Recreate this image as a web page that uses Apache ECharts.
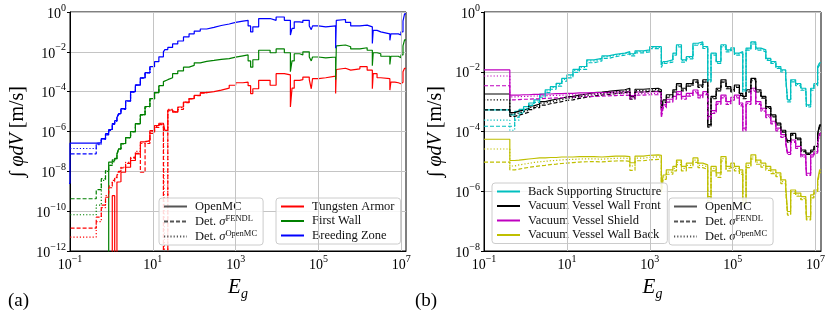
<!DOCTYPE html>
<html>
<head>
<meta charset="utf-8">
<script src="https://cdn.jsdelivr.net/npm/echarts@6/dist/echarts.min.js"></script>
<style>
  html, body { margin: 0; padding: 0; background: #fff; }
  #chart { width: 831px; height: 322px; }
</style>
</head>
<body>
<div id="chart"></div>
<script>
// ==========================================
// 데이터: (a) 블랭킷 영역 / (b) 진공용기 영역
// ==========================================

// (a) 에너지 그룹 경계 [eV]
const energyA = [0.01, 0.1, 0.43, 0.57, 0.72, 0.86, 1.05, 1.2, 1.36, 1.5, 1.7, 2.2, 2.9, 3.8, 5.0, 6.5, 8.5, 11, 14, 18, 19.5, 23, 30, 40, 55, 75, 100, 140, 200, 300, 450, 700, 1000, 1500, 2000, 2300, 2600, 3600, 6800, 9500, 1.5e4, 2.1e4, 2.3e4, 2.6e4, 3.5e4, 4.2e4, 6e4, 6.7e4, 7.2e4, 1e5, 1.5e5, 2.6e5, 2.7e5, 2.8e5, 4.5e5, 6e5, 1e6, 1.5e6, 2e6, 2.1e6, 2.6e6, 3.2e6, 5.3e6, 5.6e6, 7e6, 8.5e6, 9.8e6, 1.1e7, 1.2e7, 1.3e7];

// Breeding Zone
const breedingOpenMC = [2.5e-9, 2.6e-7, 2.8e-7, 4.4e-7, 7.8e-7, 1.26e-6, 2.5e-6, 3.5e-6, 5e-6, 8e-6, 1.4e-5, 3.5e-5, 1e-4, 2.2e-4, 5e-4, 9e-4, 1.8e-3, 3.2e-3, 5.6e-3, 0.01, 0.013, 0.0166, 0.025, 0.035, 0.056, 0.08, 0.11, 0.14, 0.17, 0.21, 0.25, 0.3, 0.35, 0.38, 0.2, 0.1, 0.18, 0.47, 0.38, 0.56, 0.38, 0.07, 0.15, 0.32, 0.3, 0.38, 0.2, 0.13, 0.2, 0.18, 0.2, 0.015, 0.38, 0.42, 0.3, 0.2, 0.22, 0.18, 0.026, 0.12, 0.1, 0.08, 0.038, 0.08, 0.08, 0.07, 0.1, 0.35, 0.8, 0.8];
const breedingFendl = [7.6e-8, 7.6e-8, 2.4e-7, 4e-7, 6.8e-7, 1.15e-6, 2.3e-6, 3.3e-6, 4.6e-6, 7.5e-6, 1.3e-5, 3.3e-5, 9.5e-5, 2.1e-4, 4.8e-4, 8.8e-4, 1.8e-3];
const breedingDetOpenMC = [1.4e-7, 1.4e-7, 2.2e-7, 4.1e-7, 7.2e-7, 1.2e-6, 2.4e-6, 3.4e-6, 4.8e-6, 7.8e-6, 1.35e-5, 3.4e-5, 9.8e-5, 2.15e-4, 4.9e-4, 8.9e-4, 1.8e-3];

// First Wall
const firstWallOpenMC = [1e-14, 1e-14, 1e-14, 1e-14, 1e-14, 2.9e-8, 3.5e-8, 4.5e-8, 7.6e-8, 1.35e-7, 2.5e-7, 5e-7, 1e-6, 2.5e-6, 7e-6, 1.8e-5, 4.5e-5, 9e-5, 2e-4, 3.2e-4, 4e-4, 5e-4, 8e-4, 1.1e-3, 1.7e-3, 2.1e-3, 2.8e-3, 3.3e-3, 3.7e-3, 4.2e-3, 4.6e-3, 5.4e-3, 6.3e-3, 7e-3, 3.5e-3, 1.7e-3, 4e-3, 0.012, 0.009, 0.014, 0.009, 1e-3, 3.5e-3, 8e-3, 7e-3, 0.01, 5.5e-3, 3.5e-3, 5.5e-3, 5e-3, 5.5e-3, 4e-4, 0.02, 0.022, 0.018, 0.014, 0.016, 0.012, 2e-3, 9e-3, 8e-3, 6e-3, 2.3e-3, 6e-3, 6e-3, 5e-3, 7e-3, 0.02, 0.04, 0.04];
const firstWallFendl = [4.2e-10, 4.2e-10, 1.2e-9, 4.3e-9, 1.1e-8, 2e-8, 3.8e-8, 4.5e-8, 7e-8, 1.3e-7, 2.4e-7, 4.8e-7, 9.5e-7, 2.4e-6, 6.8e-6, 1.75e-5, 4.4e-5, 8.8e-5, 1.95e-4];
const firstWallDetOpenMC = [6.6e-11, 6.6e-11, 2e-10, 3.5e-9, 1e-8, 2e-8, 3e-8, 4.2e-8, 7.2e-8, 1.3e-7, 2.45e-7, 4.9e-7, 9.8e-7, 2.45e-6, 6.9e-6, 1.78e-5, 4.45e-5, 8.9e-5, 1.98e-4];

// Tungsten Armor
const tungstenOpenMC = [1e-14, 1e-14, 1e-14, 1e-14, 1e-14, 1e-14, 6e-10, 1e-14, 2.9e-9, 3e-9, 9e-9, 1.6e-8, 3.5e-8, 7.6e-8, 3e-7, 3.5e-7, 1.1e-6, 2e-6, 2.6e-6, 2.6e-6, 1.15e-6, 1.2e-5, 9.5e-6, 1.7e-5, 3e-5, 4.5e-5, 6.5e-5, 8.9e-5, 1e-4, 1.2e-4, 1.5e-4, 2.1e-4, 2.8e-4, 3e-4, 2e-4, 8e-5, 1.4e-4, 3.7e-4, 2.1e-4, 8e-4, 7e-4, 1.7e-5, 1.5e-4, 3.7e-4, 4e-4, 5.4e-4, 4e-4, 1.4e-4, 4.5e-4, 5e-4, 6e-4, 8e-5, 1.3e-3, 1.5e-3, 1.2e-3, 1.4e-3, 1.8e-3, 1.2e-3, 1.4e-4, 8e-4, 5e-4, 4.5e-4, 1.2e-4, 3e-4, 2.8e-4, 2.5e-4, 3e-4, 1e-3, 1.5e-3, 1.5e-3];
const tungstenFendl = [1.4e-11, 1.4e-11, 5e-11, 2e-10, 5e-10, 1.5e-9, 3.5e-9, 5e-9, 7e-9, 1e-8, 1.5e-8, 2.5e-8, 5e-8, 8e-8, 9e-9, 2.5e-7, 8e-7, 1.6e-6, 2.2e-6, 1e-14, 1e-14, 1.1e-5, 9e-6, 1.3e-5, 2.8e-5, 4.3e-5, 6.3e-5, 8.5e-5, 1e-4];
const tungstenDetOpenMC = [5e-12, 5e-12, 3e-11, 1.5e-10, 6e-10, 1.8e-9, 3e-9, 4.5e-9, 6e-9, 9e-9, 1.6e-8, 2.8e-8, 4.5e-8, 1e-7, 2.5e-7, 3.2e-7, 1e-6, 1.8e-6, 2.4e-6, 2.2e-6, 1e-14, 1.3e-5, 1e-5, 1.6e-5, 3e-5, 4.5e-5];

// (b) 에너지 그룹 경계 [eV]
const energyB = [0.1, 0.42, 0.55, 0.7, 0.9, 1.2, 1.6, 2.2, 3.0, 4.0, 5.5, 7.5, 10, 14, 20, 30, 45, 70, 100, 150, 250, 330, 440, 700, 1000, 1600, 1900, 2100, 2500, 3600, 4400, 5800, 7600, 1.1e4, 1.45e4, 1.9e4, 2.5e4, 3e4, 4e4, 5.2e4, 6.9e4, 9e4, 1.1e5, 1.45e5, 1.75e5, 2.1e5, 2.75e5, 3.6e5, 4.8e5, 6.3e5, 8.3e5, 1.1e6, 1.45e6, 1.9e6, 2.1e6, 2.5e6, 3.3e6, 4.4e6, 5.8e6, 6e6, 7.6e6, 9.1e6, 1.12e7, 1.25e7, 1.35e7];

// Back Supporting Structure
const bssOpenMC = [5.3e-4, 3.6e-4, 4.7e-4, 5.5e-4, 6.8e-4, 9e-4, 1.15e-3, 1.8e-3, 2.5e-3, 3.2e-3, 4.1e-3, 6e-3, 7.8e-3, 0.012, 0.015, 0.025, 0.028, 0.034, 0.038, 0.042, 0.047, 0.04, 0.05, 0.054, 0.069, 0.069, 0.017, 0.022, 0.025, 0.042, 0.08, 0.025, 0.032, 0.09, 0.1, 0.07, 5.4e-3, 0.042, 0.022, 0.08, 0.054, 0.063, 0.042, 0.047, 2.5e-3, 0.062, 0.1, 0.062, 0.054, 0.028, 0.022, 0.015, 0.0115, 6.9e-3, 1.15e-3, 5.4e-3, 4e-3, 2.8e-3, 2.5e-3, 7.8e-4, 2.8e-3, 4e-3, 0.015, 0.02, 0.02];
const bssFendl = [1.5e-4, 1.5e-4, 3e-4, 4.2e-4, 5.5e-4, 7.5e-4, 9.5e-4, 1.4e-3, 2e-3, 2.6e-3, 3.3e-3, 4.8e-3, 6.2e-3, 9.5e-3, 0.012, 0.02, 0.023, 0.028, 0.032, 0.036, 0.04, 0.034, 0.043, 0.046, 0.059, 0.059, 0.014, 0.019, 0.021, 0.036, 0.068, 0.021, 0.027, 0.077, 0.085, 0.06, 4.6e-3, 0.036, 0.019, 0.068, 0.046, 0.054, 0.036, 0.04, 2.1e-3, 0.053, 0.085, 0.053, 0.046, 0.024, 0.019, 0.013, 9.8e-3, 5.9e-3, 9.8e-4, 4.6e-3, 3.4e-3, 2.4e-3, 2.1e-3, 6.6e-4, 2.4e-3, 3.4e-3, 0.013, 0.017, 0.017];
const bssDetOpenMC = [2.4e-4, 1.1e-4, 2.4e-4, 4e-4, 5.6e-4, 7.8e-4, 1.05e-3, 1.6e-3, 2.3e-3, 3e-3, 3.8e-3, 5.5e-3, 7.2e-3, 0.011, 0.014, 0.023, 0.026, 0.032, 0.036, 0.04, 0.045, 0.038, 0.047, 0.051, 0.065, 0.065, 0.016, 0.021, 0.024, 0.04, 0.075, 0.024, 0.03, 0.085, 0.094, 0.066, 5e-3, 0.04, 0.021, 0.075, 0.051, 0.059, 0.04, 0.044, 2.3e-3, 0.058, 0.094, 0.058, 0.051, 0.026, 0.021, 0.014, 0.011, 6.5e-3, 1.1e-3, 5.1e-3, 3.8e-3, 2.6e-3, 2.4e-3, 7.3e-4, 2.6e-3, 3.8e-3, 0.014, 0.019, 0.019];

// Vacuum Vessel Wall Front
const vvFrontOpenMC = [1.8e-3, 4.3e-4, 4.8e-4, 5.2e-4, 5.8e-4, 7.2e-4, 8.3e-4, 1e-3, 1.1e-3, 1.2e-3, 1.3e-3, 1.45e-3, 1.5e-3, 1.66e-3, 1.8e-3, 2e-3, 2.1e-3, 2.2e-3, 2.35e-3, 2.5e-3, 2.8e-3, 1.5e-3, 2.6e-3, 2.7e-3, 2.8e-3, 2.5e-3, 6.8e-4, 1.15e-3, 1.7e-3, 2.5e-3, 4e-3, 2.8e-3, 4e-3, 5.4e-3, 3.6e-3, 5.4e-3, 1.7e-4, 1.5e-3, 2.8e-3, 5.4e-3, 3.2e-3, 2.5e-3, 3.6e-3, 1.9e-3, 1.5e-3, 2.5e-3, 6e-3, 2.5e-3, 1.5e-3, 6.8e-4, 3.6e-4, 1.9e-4, 1.1e-4, 6.8e-5, 5e-5, 8.7e-5, 6e-5, 2.4e-5, 1.9e-5, 1.9e-5, 2.4e-5, 3.2e-5, 8.7e-5, 1.66e-4, 1.66e-4];
const vvFrontFendl = [5.3e-4, 3.2e-4, 3.5e-4, 3.9e-4, 4.4e-4, 5.4e-4, 6.3e-4, 7.6e-4, 8.5e-4, 9.2e-4, 1e-3, 1.1e-3, 1.15e-3, 1.28e-3, 1.4e-3, 1.55e-3, 1.65e-3, 1.75e-3, 1.85e-3, 2e-3, 2.2e-3, 1.2e-3, 2.1e-3, 2.2e-3, 2.3e-3, 2.1e-3, 5.6e-4, 9.5e-4, 1.4e-3, 2.1e-3, 3.3e-3, 2.3e-3, 3.3e-3, 4.5e-3, 3e-3, 4.5e-3, 1.4e-4, 1.25e-3, 2.3e-3, 4.5e-3, 2.7e-3, 2.1e-3, 3e-3, 1.6e-3, 1.25e-3, 2.1e-3, 5e-3, 2.1e-3, 1.3e-3, 5.9e-4, 3.1e-4, 1.65e-4, 9.6e-5, 5.9e-5, 4.4e-5, 7.6e-5, 5.3e-5, 2.1e-5, 1.7e-5, 1.7e-5, 2.1e-5, 2.8e-5, 7.6e-5, 1.45e-4, 1.45e-4];
const vvFrontDetOpenMC = [1.15e-3, 3.8e-4, 4.2e-4, 4.6e-4, 5.1e-4, 6.4e-4, 7.4e-4, 8.9e-4, 9.8e-4, 1.07e-3, 1.16e-3, 1.29e-3, 1.34e-3, 1.48e-3, 1.6e-3, 1.78e-3, 1.87e-3, 1.96e-3, 2.1e-3, 2.25e-3, 2.5e-3, 1.35e-3, 2.35e-3, 2.45e-3, 2.55e-3, 2.3e-3, 6.2e-4, 1.05e-3, 1.55e-3, 2.3e-3, 3.6e-3, 2.55e-3, 3.6e-3, 4.9e-3, 3.3e-3, 4.9e-3, 1.55e-4, 1.37e-3, 2.55e-3, 4.9e-3, 2.9e-3, 2.3e-3, 3.3e-3, 1.75e-3, 1.37e-3, 2.3e-3, 5.5e-3, 2.3e-3, 1.4e-3, 6.3e-4, 3.3e-4, 1.75e-4, 1e-4, 6.3e-5, 4.6e-5, 8e-5, 5.6e-5, 2.2e-5, 1.8e-5, 1.8e-5, 2.2e-5, 3e-5, 8e-5, 1.55e-4, 1.55e-4];

// Vacuum Vessel Shield
const vvShieldOpenMC = [0.0115, 1.66e-3, 1.66e-3, 1.7e-3, 1.7e-3, 1.75e-3, 1.75e-3, 1.8e-3, 1.8e-3, 1.85e-3, 1.85e-3, 1.9e-3, 1.9e-3, 1.95e-3, 1.95e-3, 2e-3, 2e-3, 2.05e-3, 2.1e-3, 2.1e-3, 2.15e-3, 1.6e-3, 2.1e-3, 2.15e-3, 2.15e-3, 2e-3, 3.6e-4, 7.8e-4, 1.2e-3, 1.5e-3, 2.15e-3, 1.5e-3, 1.9e-3, 2.45e-3, 1.66e-3, 2.15e-3, 3.2e-4, 5e-4, 1e-3, 1.66e-3, 1e-3, 1.4e-3, 1.66e-3, 9e-4, 1.3e-4, 1e-3, 2.8e-3, 1e-3, 6e-4, 3.6e-4, 2.2e-4, 1.3e-4, 7.8e-5, 4.6e-5, 2e-5, 5.2e-5, 3.2e-5, 1.66e-5, 1.1e-5, 4e-6, 1.66e-5, 2.1e-5, 5.2e-5, 8.7e-5, 8.7e-5];
const vvShieldFendl = [3.4e-3, 1.15e-3, 1.17e-3, 1.2e-3, 1.2e-3, 1.24e-3, 1.24e-3, 1.28e-3, 1.3e-3, 1.33e-3, 1.35e-3, 1.4e-3, 1.4e-3, 1.45e-3, 1.46e-3, 1.5e-3, 1.52e-3, 1.56e-3, 1.6e-3, 1.62e-3, 1.66e-3, 1.25e-3, 1.65e-3, 1.7e-3, 1.7e-3, 1.6e-3, 2.9e-4, 6.2e-4, 9.6e-4, 1.2e-3, 1.72e-3, 1.2e-3, 1.52e-3, 1.96e-3, 1.33e-3, 1.72e-3, 2.6e-4, 4e-4, 8e-4, 1.33e-3, 8e-4, 1.12e-3, 1.33e-3, 7.2e-4, 1.05e-4, 8e-4, 2.25e-3, 8e-4, 4.8e-4, 2.9e-4, 1.8e-4, 1.05e-4, 6.4e-5, 3.8e-5, 1.7e-5, 4.3e-5, 2.7e-5, 1.4e-5, 9.3e-6, 3.4e-6, 1.4e-5, 1.8e-5, 4.5e-5, 7.5e-5, 7.5e-5];
const vvShieldDetOpenMC = [7.2e-3, 1.45e-3, 1.46e-3, 1.5e-3, 1.5e-3, 1.54e-3, 1.54e-3, 1.58e-3, 1.6e-3, 1.63e-3, 1.63e-3, 1.67e-3, 1.67e-3, 1.72e-3, 1.72e-3, 1.76e-3, 1.76e-3, 1.8e-3, 1.85e-3, 1.85e-3, 1.9e-3, 1.4e-3, 1.85e-3, 1.9e-3, 1.9e-3, 1.76e-3, 3.2e-4, 6.9e-4, 1.05e-3, 1.32e-3, 1.9e-3, 1.32e-3, 1.67e-3, 2.15e-3, 1.46e-3, 1.9e-3, 2.8e-4, 4.4e-4, 8.8e-4, 1.46e-3, 8.8e-4, 1.23e-3, 1.46e-3, 7.9e-4, 1.15e-4, 8.8e-4, 2.45e-3, 8.8e-4, 5.3e-4, 3.2e-4, 1.95e-4, 1.15e-4, 6.9e-5, 4e-5, 1.8e-5, 4.6e-5, 2.8e-5, 1.5e-5, 9.7e-6, 3.5e-6, 1.5e-5, 1.85e-5, 4.6e-5, 7.7e-5, 7.7e-5];

// Vacuum Vessel Wall Back
const vvBackOpenMC = [5.5e-5, 1.07e-5, 1.1e-5, 1.15e-5, 1.2e-5, 1.25e-5, 1.3e-5, 1.3e-5, 1.35e-5, 1.35e-5, 1.4e-5, 1.4e-5, 1.4e-5, 1.45e-5, 1.45e-5, 1.45e-5, 1.4e-5, 1.45e-5, 1.5e-5, 1.5e-5, 1.45e-5, 9e-6, 1.5e-5, 1.6e-5, 1.66e-5, 1.6e-5, 1.3e-6, 3.5e-6, 5.2e-6, 6.8e-6, 1.1e-5, 6.8e-6, 8.7e-6, 1.3e-5, 8.7e-6, 7.6e-6, 6.6e-7, 6.8e-6, 4.1e-6, 1.45e-5, 6.8e-6, 8.7e-6, 6.8e-6, 5.2e-6, 5.1e-7, 8.7e-6, 1.66e-5, 1.1e-5, 8.7e-6, 6.8e-6, 5.2e-6, 4.1e-6, 2.4e-6, 1.45e-6, 2.1e-7, 1.1e-6, 8.7e-7, 6.6e-7, 5.1e-7, 1.4e-7, 7.6e-7, 1.1e-6, 2.4e-6, 5.2e-6, 5.2e-6];
const vvBackFendl = [9.4e-6, 5.2e-6, 5.5e-6, 5.9e-6, 6.3e-6, 6.7e-6, 7.1e-6, 7.4e-6, 7.8e-6, 8.1e-6, 8.5e-6, 8.8e-6, 9.1e-6, 9.5e-6, 9.7e-6, 9.8e-6, 9.6e-6, 1e-5, 1.03e-5, 1.04e-5, 1e-5, 5e-6, 1.05e-5, 1.12e-5, 1.17e-5, 1.12e-5, 9e-7, 2.5e-6, 3.7e-6, 4.8e-6, 7.8e-6, 4.8e-6, 6.2e-6, 9.2e-6, 6.2e-6, 5.4e-6, 4.7e-7, 4.8e-6, 2.9e-6, 1.03e-5, 4.8e-6, 6.2e-6, 4.8e-6, 3.7e-6, 3.6e-7, 6.2e-6, 1.2e-5, 8e-6, 6.4e-6, 5e-6, 3.9e-6, 3.1e-6, 1.8e-6, 1.1e-6, 1.6e-7, 8.5e-7, 6.8e-7, 5.2e-7, 4e-7, 1.1e-7, 6e-7, 8.8e-7, 1.9e-6, 4.2e-6, 4.2e-6];
const vvBackDetOpenMC = [2.6e-5, 7e-6, 7.6e-6, 8.1e-6, 8.6e-6, 9.2e-6, 9.7e-6, 1e-5, 1.05e-5, 1.08e-5, 1.12e-5, 1.15e-5, 1.16e-5, 1.2e-5, 1.21e-5, 1.22e-5, 1.18e-5, 1.23e-5, 1.27e-5, 1.28e-5, 1.24e-5, 7e-6, 1.28e-5, 1.37e-5, 1.42e-5, 1.37e-5, 1.1e-6, 3e-6, 4.4e-6, 5.8e-6, 9.4e-6, 5.8e-6, 7.4e-6, 1.1e-5, 7.4e-6, 6.5e-6, 5.6e-7, 5.8e-6, 3.5e-6, 1.23e-5, 5.8e-6, 7.4e-6, 5.8e-6, 4.4e-6, 4.3e-7, 7.4e-6, 1.4e-5, 9.4e-6, 7.4e-6, 5.8e-6, 4.4e-6, 3.5e-6, 2.1e-6, 1.25e-6, 1.8e-7, 9.5e-7, 7.5e-7, 5.7e-7, 4.4e-7, 1.2e-7, 6.6e-7, 9.5e-7, 2.1e-6, 4.6e-6, 4.6e-6];

// 세로 격자선 위치 (10^1, 10^3, 10^5, 10^7)
const xGridValues = [10, 1e3, 1e5, 1e7];

// ==========================================
// 스타일
// ==========================================
const SERIF = 'Liberation Serif';
const GRID_COLOR = '#c4c4c4';
const DASH = [4, 2];
const DOT = [1.2, 2];

function pairs(energy, values) {
    return values.map((v, i) => [energy[i], v]);
}

// 그룹 값은 다음 경계까지 유지 (수평 먼저, 경계에서 수직)
function stepSeries(name, energy, values, color, dash, gridIndex) {
    return {
        name: name,
        type: 'line',
        xAxisIndex: gridIndex,
        yAxisIndex: gridIndex,
        step: 'end',
        symbol: 'none',
        data: pairs(energy, values),
        lineStyle: { color: color, width: 1.2, type: dash || 'solid' },
        itemStyle: { color: color },
        z: 3
    };
}

function gridLineSeries(name, gridIndex) {
    return {
        name: name,
        type: 'line',
        xAxisIndex: gridIndex,
        yAxisIndex: gridIndex,
        data: [],
        symbol: 'none',
        z: 1,
        markLine: {
            silent: true,
            symbol: 'none',
            label: { show: false },
            lineStyle: { color: GRID_COLOR, width: 1, type: 'solid' },
            data: xGridValues.map(v => ({ xAxis: v }))
        }
    };
}

function styleDummy(name, dash) {
    return {
        name: name, type: 'line', xAxisIndex: 0, yAxisIndex: 0, data: [], symbol: 'none',
        lineStyle: { color: '#555', width: 1.2, type: dash },
        itemStyle: { color: '#555' }
    };
}

// 10^n 형식 눈금 라벨
function powLabel(v, onlyOdd) {
    const e = Math.log10(v);
    const r = Math.round(e);
    if (Math.abs(e - r) > 1e-6) return '';
    if (onlyOdd && Math.abs(r) % 2 !== 1) return '';
    const exp = r < 0 ? '\u2212' + (-r) : String(r);
    return '{b|10}{s|' + exp + '}';
}

const tickRich = {
    b: { fontFamily: SERIF, fontSize: 14, color: '#000', lineHeight: 18, verticalAlign: 'bottom' },
    s: { fontFamily: SERIF, fontSize: 10, color: '#000', lineHeight: 10, verticalAlign: 'top' }
};

function xAxisDef(gridIndex, max) {
    return {
        type: 'log', gridIndex: gridIndex, logBase: 10, min: 0.1, max: max, interval: 1,
        axisLine: { show: true, onZero: false, lineStyle: { color: '#000', width: 1 } },
        axisTick: { show: false },
        splitLine: { show: false },
        axisLabel: { margin: 3, formatter: v => powLabel(v, true), rich: tickRich },
        name: '{e|E}{g|g}',
        nameLocation: 'middle',
        nameGap: 24,
        nameTextStyle: {
            rich: {
                e: { fontFamily: SERIF, fontStyle: 'italic', fontSize: 21, color: '#000', lineHeight: 24, verticalAlign: 'top' },
                g: { fontFamily: SERIF, fontStyle: 'italic', fontSize: 14, color: '#000', lineHeight: 12, verticalAlign: 'bottom' }
            }
        }
    };
}

function yAxisDef(gridIndex, min, nameGap) {
    return {
        type: 'log', gridIndex: gridIndex, logBase: 10, min: min, max: 1, interval: 2,
        axisLine: { show: true, onZero: false, lineStyle: { color: '#000', width: 1 } },
        axisTick: { show: true, length: 3, lineStyle: { color: '#000' } },
        splitLine: { show: true, lineStyle: { color: GRID_COLOR, width: 1 } },
        axisLabel: { margin: 4, formatter: v => powLabel(v, false), rich: tickRich },
        name: '\u222B {i|\u03C6dV} [m/s]',
        nameLocation: 'middle',
        nameGap: nameGap,
        nameRotate: 90,
        nameTextStyle: {
            fontFamily: SERIF, fontSize: 20, color: '#000',
            rich: { i: { fontFamily: SERIF, fontStyle: 'italic', fontSize: 20, color: '#000' } }
        }
    };
}

const legendRich = {
    n: { fontFamily: SERIF, fontSize: 12.5, color: '#111', lineHeight: 14 },
    g: { fontFamily: SERIF, fontStyle: 'italic', fontSize: 12.5, color: '#111', lineHeight: 14 },
    s: { fontFamily: SERIF, fontSize: 8.5, color: '#111', lineHeight: 9, verticalAlign: 'top' }
};

function legendText(name) {
    if (name === 'Det. FENDL') return '{n|Det. }{g|\u03C3}{s|FENDL}';
    if (name === 'Det. OpenMC') return '{n|Det. }{g|\u03C3}{s|OpenMC}';
    return '{n|' + name + '}';
}

function legendDef(left, top, names) {
    return {
        left: left, top: top, orient: 'vertical', data: names,
        selectedMode: false,
        itemWidth: 23, itemHeight: 10, itemGap: 1.5,
        padding: [2, 6, 2, 4],
        backgroundColor: 'rgba(255,255,255,0.85)',
        borderColor: '#cccccc', borderWidth: 1, borderRadius: 3,
        itemStyle: { opacity: 0 },
        formatter: legendText,
        textStyle: { fontFamily: SERIF, fontSize: 12.5, color: '#111', padding: [0, 0, 0, 3], rich: legendRich }
    };
}

const STYLE_NAMES = ['OpenMC', 'Det. FENDL', 'Det. OpenMC'];

// ==========================================
// 차트 구성
// ==========================================
const chart = echarts.init(document.getElementById('chart'), null, { renderer: 'canvas' });

const series = [
    styleDummy('OpenMC', 'solid'),
    styleDummy('Det. FENDL', DASH),
    styleDummy('Det. OpenMC', DOT),
    gridLineSeries('_gridA', 0),
    gridLineSeries('_gridB', 1),

    // (a)
    stepSeries('Tungsten Armor', energyA, tungstenOpenMC, '#ff0000', null, 0),
    stepSeries('First Wall', energyA, firstWallOpenMC, '#008000', null, 0),
    stepSeries('Breeding Zone', energyA, breedingOpenMC, '#0000ff', null, 0),
    stepSeries('Tungsten Armor', energyA, tungstenFendl, '#ff0000', DASH, 0),
    stepSeries('First Wall', energyA, firstWallFendl, '#008000', DASH, 0),
    stepSeries('Breeding Zone', energyA, breedingFendl, '#0000ff', DASH, 0),
    stepSeries('Tungsten Armor', energyA, tungstenDetOpenMC, '#ff0000', DOT, 0),
    stepSeries('First Wall', energyA, firstWallDetOpenMC, '#008000', DOT, 0),
    stepSeries('Breeding Zone', energyA, breedingDetOpenMC, '#0000ff', DOT, 0),

    // (b)
    stepSeries('Back Supporting Structure', energyB, bssOpenMC, '#00bfbf', null, 1),
    stepSeries('Vacuum Vessel Wall Front', energyB, vvFrontOpenMC, '#000000', null, 1),
    stepSeries('Vacuum Vessel Shield', energyB, vvShieldOpenMC, '#bf00bf', null, 1),
    stepSeries('Vacuum Vessel Wall Back', energyB, vvBackOpenMC, '#bfbf00', null, 1),
    stepSeries('Back Supporting Structure', energyB, bssFendl, '#00bfbf', DASH, 1),
    stepSeries('Vacuum Vessel Wall Front', energyB, vvFrontFendl, '#000000', DASH, 1),
    stepSeries('Vacuum Vessel Shield', energyB, vvShieldFendl, '#bf00bf', DASH, 1),
    stepSeries('Vacuum Vessel Wall Back', energyB, vvBackFendl, '#bfbf00', DASH, 1),
    stepSeries('Back Supporting Structure', energyB, bssDetOpenMC, '#00bfbf', DOT, 1),
    stepSeries('Vacuum Vessel Wall Front', energyB, vvFrontDetOpenMC, '#000000', DOT, 1),
    stepSeries('Vacuum Vessel Shield', energyB, vvShieldDetOpenMC, '#bf00bf', DOT, 1),
    stepSeries('Vacuum Vessel Wall Back', energyB, vvBackDetOpenMC, '#bfbf00', DOT, 1)
];

chart.setOption({
    animation: false,
    backgroundColor: '#fff',
    grid: [
        { left: 70, top: 12, width: 336, height: 239, show: true, borderColor: '#000', borderWidth: 1, containLabel: false },
        { left: 484, top: 12, width: 337, height: 239, show: true, borderColor: '#000', borderWidth: 1, containLabel: false }
    ],
    xAxis: [xAxisDef(0, 1.3e7), xAxisDef(1, 1.35e7)],
    yAxis: [yAxisDef(0, 1e-12, 42), yAxisDef(1, 1e-8, 38)],
    legend: [
        legendDef(159, 198, STYLE_NAMES),
        legendDef(276, 198, ['Tungsten Armor', 'First Wall', 'Breeding Zone']),
        legendDef(492, 183, ['Back Supporting Structure', 'Vacuum Vessel Wall Front', 'Vacuum Vessel Shield', 'Vacuum Vessel Wall Back']),
        legendDef(669, 198, STYLE_NAMES)
    ],
    graphic: [
        { type: 'text', left: 8, top: 292, style: { text: '(a)', font: '19px "Liberation Serif"', fill: '#000' } },
        { type: 'text', left: 415, top: 292, style: { text: '(b)', font: '19px "Liberation Serif"', fill: '#000' } }
    ],
    series: series
});
</script>
</body>
</html>
